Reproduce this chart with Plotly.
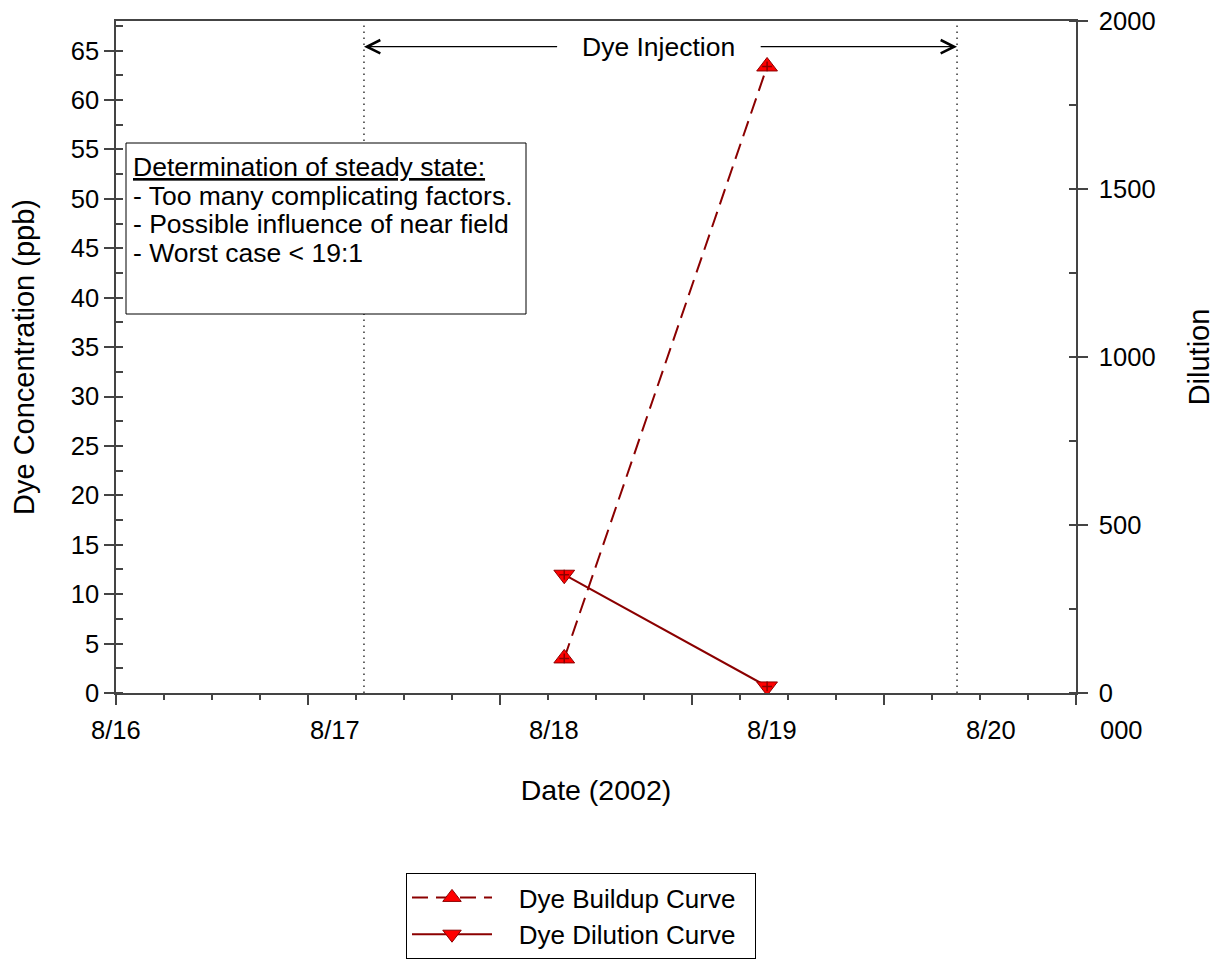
import pandas as pd
import plotly.graph_objects as go

# ---- data -----------------------------------------------------------------
sample_times = ["2002-08-18 01:10", "2002-08-18 23:25"]
buildup_ppb = [3.5, 63.4]          # Dye Buildup Curve (left axis)
dilution_ratio = [352, 19.5]       # Dye Dilution Curve (right axis)

injection_times = ["2002-08-17 03:12", "2002-08-19 20:15"]
date_ticks = ["2002-08-16", "2002-08-17", "2002-08-18", "2002-08-19", "2002-08-20"]
date_labels = ["8/16", "8/17", "8/18", "8/19", "8/20"]

box_lines = [
    "<u>Determination of steady state:</u>",
    "- Too many complicating factors.",
    "- Possible influence of near field",
    "- Worst case &lt; 19:1",
]

# ---- styling --------------------------------------------------------------
FONT = "Liberation Sans, Arial, Helvetica, sans-serif"
AXIS = "#444444"
LINE_RED = "#8b0000"
FILL_RED = "#ff0000"
NBSP = "\u00a0"

W, H = 1223, 971
x_start = pd.Timestamp("2002-08-16 00:00")
x_end = pd.Timestamp("2002-08-20 09:18")
span_ms = (x_end - x_start).total_seconds() * 1000.0
y_max = 68.0

PLOT_TOP, PLOT_H = 21, 672   # pixel geometry of the plotting area


def paper_y(px):
    return (PLOT_TOP + PLOT_H - px) / PLOT_H


def paper_x(px):
    return (px - 116) / 960


fig = go.Figure()

fig.add_trace(go.Scatter(
    x=sample_times, y=buildup_ppb, name=NBSP * 3 + "Dye Buildup Curve" + NBSP * 2,
    mode="lines+markers",
    line=dict(color=LINE_RED, width=2, dash="16px,8px"),
    marker=dict(symbol="triangle-up", size=18, color=FILL_RED,
                line=dict(color=LINE_RED, width=1)),
))
fig.add_trace(go.Scatter(
    x=sample_times, y=dilution_ratio, name=NBSP * 3 + "Dye Dilution Curve" + NBSP * 2,
    yaxis="y2", mode="lines+markers",
    line=dict(color=LINE_RED, width=2),
    marker=dict(symbol="triangle-down", size=18, color=FILL_RED,
                line=dict(color=LINE_RED, width=1)),
))
# small crosses inside the triangles
fig.add_trace(go.Scatter(
    x=sample_times, y=buildup_ppb, mode="markers", showlegend=False,
    hoverinfo="skip",
    marker=dict(symbol="cross-thin", size=7, line=dict(color=LINE_RED, width=1.5)),
))
fig.add_trace(go.Scatter(
    x=sample_times, y=dilution_ratio, yaxis="y2", mode="markers", showlegend=False,
    hoverinfo="skip",
    marker=dict(symbol="cross-thin", size=7, line=dict(color=LINE_RED, width=1.5)),
))

# injection period markers
for t in injection_times:
    fig.add_vline(x=t, line=dict(color="black", width=1.2, dash="1.5px,4.5px"))

# opaque note box (drawn above the dotted lines)
fig.add_shape(type="rect", xref="paper", yref="paper",
              x0=paper_x(126), x1=paper_x(526), y0=paper_y(314), y1=paper_y(143),
              line=dict(color="black", width=1), fillcolor="white", layer="above")

t0 = pd.Timestamp(injection_times[0])
t1 = pd.Timestamp(injection_times[1])
label_time = pd.Timestamp("2002-08-18 11:33")
gap = pd.Timedelta(hours=11.0)
arrow_y = 65.4

annotations = [
    dict(x=label_time, y=arrow_y, xref="x", yref="y", text="Dye Injection",
         showarrow=False, font=dict(size=26.5, color="black", family=FONT)),
    dict(x=t0, y=arrow_y, ax=label_time - gap, ay=arrow_y, xref="x", yref="y",
         axref="x", ayref="y", text="", showarrow=True, arrowhead=5,
         arrowsize=2.2, arrowwidth=1.2, arrowcolor="black", standoff=0),
    dict(x=t1, y=arrow_y, ax=label_time + gap, ay=arrow_y, xref="x", yref="y",
         axref="x", ayref="y", text="", showarrow=True, arrowhead=5,
         arrowsize=2.2, arrowwidth=1.2, arrowcolor="black", standoff=0),
]
for i, line in enumerate(box_lines):
    annotations.append(dict(x=paper_x(131), y=paper_y(167 + 28.5 * i),
                            xref="paper", yref="paper", xanchor="left",
                            yanchor="middle", text=line, showarrow=False,
                            align="left",
                            font=dict(size=26.5, color="black", family=FONT)))
for t, lab in zip(date_ticks, date_labels):
    annotations.append(dict(x=t, y=paper_y(730), xref="x", yref="paper", text=lab,
                            showarrow=False, yanchor="middle",
                            font=dict(size=25.5, color="black", family=FONT)))
annotations.append(dict(x=paper_x(1098), y=paper_y(730), xref="paper", yref="paper",
                        text="000", showarrow=False, xanchor="left", yanchor="middle",
                        font=dict(size=25.5, color="black", family=FONT)))

fig.update_layout(
    template="none",
    width=W, height=H,
    margin=dict(l=116, r=147, t=21, b=278),
    paper_bgcolor="white", plot_bgcolor="white",
    font=dict(family=FONT, size=25.5, color="black"),
    xaxis=dict(
        type="date", range=[x_start, x_end], automargin=False,
        tickmode="linear", tick0=x_start, dtick=span_ms / 5,
        ticks="outside", ticklen=10, tickwidth=1.5, tickcolor=AXIS,
        showticklabels=False, showgrid=False, zeroline=False,
        showline=True, linecolor=AXIS, linewidth=1.5, mirror=True,
        minor=dict(tick0=x_start, dtick=span_ms / 20, ticks="outside",
                   ticklen=5, tickwidth=1.5, tickcolor=AXIS, showgrid=False),
        title=dict(text="Date (2002)", font=dict(size=28.5), standoff=76),
    ),
    yaxis=dict(
        range=[0, y_max], automargin=False,
        tickmode="linear", tick0=0, dtick=5,
        ticks="outside", ticklen=10, tickwidth=1.5, tickcolor=AXIS,
        showgrid=False, zeroline=False,
        showline=True, linecolor=AXIS, linewidth=1.5,
        tickfont=dict(size=25.5),
        minor=dict(dtick=2.5, ticks="inside", ticklen=7, tickwidth=1.5,
                   tickcolor=AXIS, showgrid=False),
        title=dict(text="Dye Concentration (ppb)", font=dict(size=29), standoff=28),
    ),
    yaxis2=dict(
        range=[0, 2000], overlaying="y", side="right", automargin=False,
        tickmode="linear", tick0=0, dtick=500,
        ticks="outside", ticklen=10, tickwidth=1.5, tickcolor=AXIS,
        showgrid=False, zeroline=False,
        showline=True, linecolor=AXIS, linewidth=1.5,
        tickfont=dict(size=25.5), ticklabelstandoff=6,
        minor=dict(dtick=250, ticks="inside", ticklen=7, tickwidth=1.5,
                   tickcolor=AXIS, showgrid=False),
        title=dict(text="Dilution", font=dict(size=29), standoff=34),
    ),
    legend=dict(
        x=paper_x(406), y=paper_y(873), xref="paper", yref="paper",
        xanchor="left", yanchor="top",
        bgcolor="white", bordercolor="black", borderwidth=1,
        font=dict(size=26, color="black", family=FONT),
        itemwidth=80, tracegroupgap=0,
    ),
    annotations=annotations,
    showlegend=True,
)

fig.write_html("out.html")
